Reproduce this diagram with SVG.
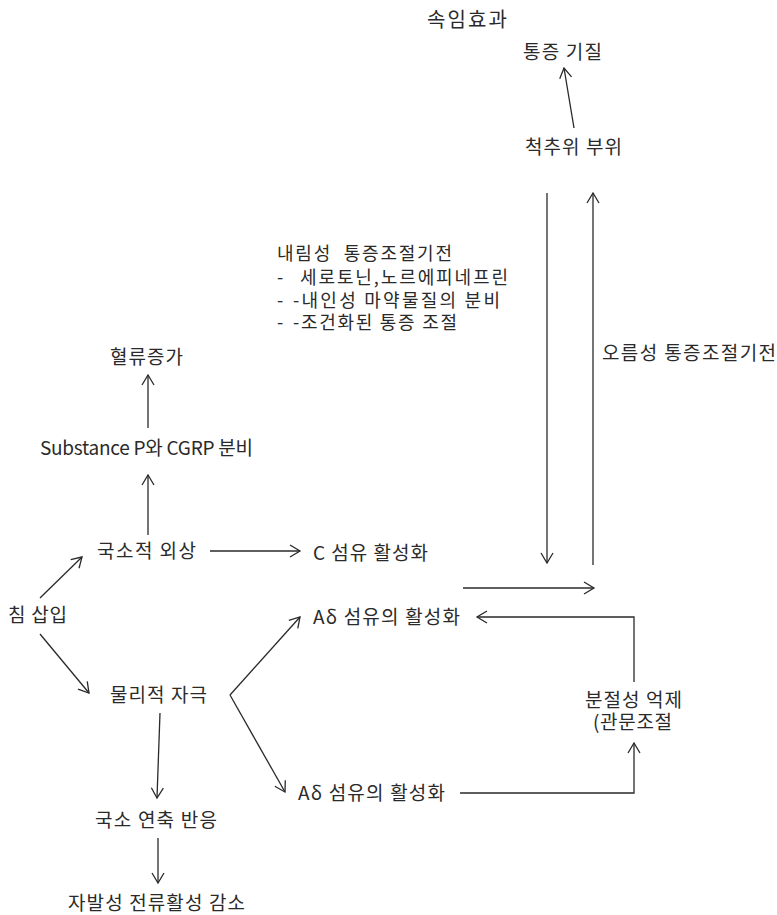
<svg xmlns="http://www.w3.org/2000/svg" width="777" height="915" viewBox="0 0 777 915">
<style>
text{font-family:"Noto Sans CJK KR","Noto Sans",sans-serif;font-size:19px;fill:#2a2a2a;white-space:pre}
.s{font-size:18px}
.c line,.c polyline,.c path{stroke:#2a2a2a;stroke-width:1.3;fill:none}
</style>
<defs>
<marker id="ah" markerUnits="userSpaceOnUse" markerWidth="14" markerHeight="14" refX="11" refY="7" orient="auto" viewBox="0 0 14 14">
<path d="M1,1 L11,7 L1,13" stroke="#2a2a2a" stroke-width="1.3" fill="none"/>
</marker>
</defs>
<rect width="777" height="915" fill="#fff"/>
<g id="n-placebo"><text x="427" y="27" style="font-size:20px" textLength="80" lengthAdjust="spacing">속임효과</text></g>
<g id="n-pain-matrix"><text x="523" y="59" textLength="79" lengthAdjust="spacing">통증 기질</text></g>
<g id="n-supraspinal"><text x="525" y="154" textLength="97" lengthAdjust="spacing">척추위 부위</text></g>
<g id="n-descending">
<text class="s" x="277" y="260" textLength="175" lengthAdjust="spacing">내림성  통증조절기전</text>
<text class="s" x="277" y="284">-</text><text class="s" x="300" y="284" textLength="208" lengthAdjust="spacing">세로토닌,노르에피네프린</text>
<text class="s" x="277" y="307">-</text><text class="s" x="293" y="307" textLength="207" lengthAdjust="spacing">-내인성 마약물질의 분비</text>
<text class="s" x="277" y="329">-</text><text class="s" x="293" y="329" textLength="164" lengthAdjust="spacing">-조건화된 통증 조절</text>
</g>
<g id="n-ascending"><text x="602" y="360" textLength="174" lengthAdjust="spacing">오름성 통증조절기전</text></g>
<g id="n-bloodflow"><text x="110" y="364" textLength="73" lengthAdjust="spacing">혈류증가</text></g>
<g id="n-substance"><text x="40" y="455" textLength="213" lengthAdjust="spacing">Substance P와 CGRP 분비</text></g>
<g id="n-local-trauma"><text x="97" y="558" textLength="99" lengthAdjust="spacing">국소적 외상</text></g>
<g id="n-c-fiber"><text x="313" y="560" textLength="115" lengthAdjust="spacing">C 섬유 활성화</text></g>
<g id="n-adelta1"><text x="313" y="624" textLength="147" lengthAdjust="spacing">Aδ 섬유의 활성화</text></g>
<g id="n-needle"><text x="8" y="622" textLength="59" lengthAdjust="spacing">침 삽입</text></g>
<g id="n-physical"><text x="110" y="702" textLength="97" lengthAdjust="spacing">물리적 자극</text></g>
<g id="n-segmental"><text x="585" y="707" textLength="97" lengthAdjust="spacing">분절성 억제</text><text x="593" y="729" textLength="79" lengthAdjust="spacing">(관문조절</text></g>
<g id="n-adelta2"><text x="298" y="800" textLength="147" lengthAdjust="spacing">Aδ 섬유의 활성화</text></g>
<g id="n-twitch"><text x="95" y="827" textLength="122" lengthAdjust="spacing">국소 연축 반응</text></g>
<g id="n-spontaneous"><text x="68" y="910" textLength="177" lengthAdjust="spacing">자발성 전류활성 감소</text></g>
<g id="connectors" class="c">
<line x1="574" y1="128" x2="564" y2="68" marker-end="url(#ah)"/>
<line x1="547" y1="193" x2="547" y2="563" marker-end="url(#ah)"/>
<line x1="593" y1="565" x2="593" y2="193" marker-end="url(#ah)"/>
<line x1="463" y1="588" x2="594" y2="588" marker-end="url(#ah)"/>
<line x1="148" y1="428" x2="148" y2="375" marker-end="url(#ah)"/>
<line x1="148" y1="535" x2="148" y2="475" marker-end="url(#ah)"/>
<line x1="210" y1="551" x2="300" y2="551" marker-end="url(#ah)"/>
<line x1="40" y1="598" x2="82" y2="557" marker-end="url(#ah)"/>
<line x1="40" y1="634" x2="89" y2="693" marker-end="url(#ah)"/>
<line x1="230" y1="695" x2="300" y2="617" marker-end="url(#ah)"/>
<line x1="230" y1="695" x2="285" y2="792" marker-end="url(#ah)"/>
<polyline points="634,682 634,617 477,617" marker-end="url(#ah)"/>
<polyline points="460,793 634,793 634,743" marker-end="url(#ah)"/>
<line x1="160" y1="713" x2="157" y2="798" marker-end="url(#ah)"/>
<line x1="158" y1="838" x2="158" y2="883" marker-end="url(#ah)"/>
</g>
</svg>
